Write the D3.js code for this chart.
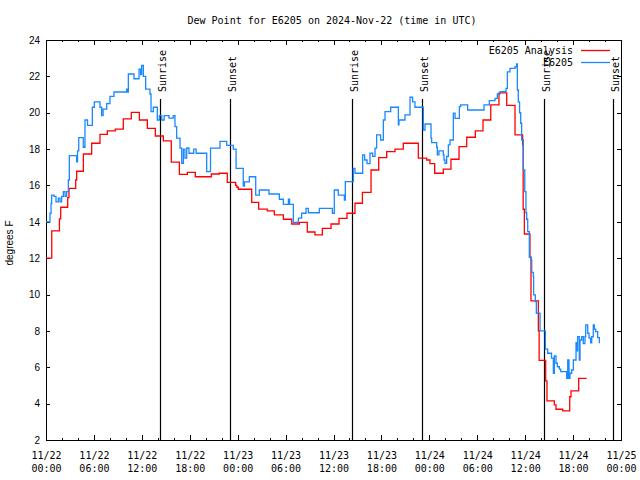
<!DOCTYPE html>
<html>
<head>
  <meta charset="utf-8">
  <title>Dew Point for E6205</title>
  <script src="https://cdn.jsdelivr.net/npm/d3@7"></script>
  <style>
    body { margin: 0; background: #fff; }
    text { fill: #000; }
  </style>
</head>
<body>
  <script>
    // Hours since 2024-11-22 00:00 UTC
    const start = Date.UTC(2024, 10, 22, 0, 0);
    const end = Date.UTC(2024, 10, 25, 0, 0);

    // E6205 Analysis (red, stepped)
    const analysisHours = [0, 0.72, 1.68, 1.84, 2.72, 2.88, 3.72, 3.84, 4.68, 5.72, 6.76, 7.68, 8.68, 9.68, 10.68,
      11.69, 12.69, 13.69, 14.69, 15.69, 16.7, 17.7, 18.7, 20.7, 21.7, 22.7, 23.75, 23.9, 24.08, 25.76, 26.63,
      27.71, 28.59, 29.72, 30.77, 31.72, 32.72, 33.68, 34.6, 35.69, 36.69, 37.69, 38.69, 39.62, 40.7, 41.66,
      42.66, 43.7, 44.74, 46.62, 47.67, 48.08, 48.67, 49.75, 50.71, 51.72, 52.68, 53.76, 54.72, 55.69, 56.72,
      57.69, 58.73, 59.69, 59.75, 59.9, 60.6, 60.73, 61.65, 61.75, 62.57, 62.73, 63.65, 63.86, 64.7, 65.58,
      65.74, 66.7, 67.7];
    const analysisValues = [12.0, 13.5, 14.16, 14.8, 15.33, 15.84, 16.3, 16.78, 17.73, 18.32, 18.81, 19.0, 19.1, 19.66, 20.02,
      19.6, 19.14, 18.72, 18.45, 17.28, 16.61, 16.72, 16.48, 16.63, 16.67, 16.17, 16.0, 15.9, 15.79, 15.07, 14.7,
      14.6, 14.38, 14.14, 13.88, 13.97, 13.44, 13.28, 13.64, 13.88, 14.19, 14.47, 15.02, 15.62, 16.85, 17.53,
      17.86, 18.0, 18.32, 17.5, 17.4, 17.2, 16.67, 16.9, 17.44, 18.14, 18.65, 19.0, 19.6, 20.43, 21.09,
      20.4, 18.78, 18.23, 14.69, 13.33, 12.05, 9.65, 8.01, 6.38, 5.25, 4.15, 3.93, 3.69, 3.6, 4.38,
      4.7, 5.39, 5.39];

    // E6205 observations (blue)
    const obsHours = [0, 0.5, 0.63, 0.71, 1.0, 1.25, 1.54, 1.75, 1.96, 2.17, 2.38, 2.59, 2.8, 2.92, 3.84, 3.95,
      4.1, 4.67, 4.88, 5.2, 5.8, 6.05, 6.76, 6.97, 7.15, 7.6, 8.01, 8.51, 10.1, 10.2, 10.31, 11.02, 11.65,
      11.85, 11.98, 12.19, 12.48, 13.02, 13.15, 13.44, 13.94, 14.2, 14.5, 14.8, 15.4, 15.94, 16.15, 16.36,
      16.78, 16.99, 17.2, 17.4, 17.62, 17.9, 18.5, 18.8, 20.12, 20.6, 21.79, 22.63, 23.45, 23.8, 24.7,
      24.85, 25.46, 26.26, 26.71, 27.92, 29.22, 29.72, 30.35, 30.5, 30.97, 31.6, 32.01, 32.56, 32.85,
      34.23, 35.86, 36.1, 36.6, 37.36, 37.48, 38.48, 38.69, 39.65, 39.9, 40.2, 40.57, 40.9, 41.2, 41.4,
      41.9, 42.24, 42.45, 43.16, 44.12, 44.2, 44.95, 45.58, 45.91, 46.2, 47.25, 47.46, 48.21, 48.29,
      48.92, 49.0, 49.2, 49.75, 49.84, 49.96, 50.17, 50.38, 50.59, 51.01, 51.22, 51.76, 51.93, 52.8,
      54.85, 55.51, 56.22, 56.52, 56.85, 57.6, 57.77, 58.1, 58.73, 58.94, 59.02, 59.14, 59.3, 59.44,
      59.56, 59.77, 59.95, 60.1, 60.19, 60.32, 60.52, 60.73, 60.82, 61.02, 61.06, 61.27, 61.4, 61.86,
      62.53, 62.82, 63.3, 63.53, 63.65, 63.86, 64.03, 64.28, 64.45, 65.2, 65.33, 65.49, 65.61, 65.82,
      66.03, 66.37, 66.45, 66.57, 66.78, 66.87, 67.08, 67.28, 67.49, 67.58, 67.83, 68.0, 68.2, 68.33,
      68.53, 68.66, 68.83, 69.08, 69.29];
    const obsValues = [14.0, 14.47, 15.0, 15.47, 15.4, 15.1, 15.3, 15.1, 15.4, 15.66, 15.4, 15.66, 16.3, 17.64, 17.3, 17.9,
      18.63, 18.1, 19.6, 19.3, 20.3, 20.6, 20.3, 19.84, 20.2, 20.5, 20.9, 21.14, 21.3, 21.14, 22.13, 21.87, 22.39,
      22.1, 22.6, 22.0, 21.3, 21.03, 20.06, 20.3, 19.6, 19.84, 19.6, 19.84, 19.7, 19.84, 19.24, 18.6,
      18.05, 17.22, 18.0, 17.5, 18.06, 17.77, 18.0, 17.77, 16.76, 18.05, 18.42, 18.2, 18.0, 16.94, 15.97,
      16.2, 16.48, 15.47, 15.75, 15.53, 15.24, 14.96, 15.24, 14.96, 13.97, 14.2, 14.47, 14.74, 14.5,
      14.74, 14.47, 15.75, 15.47, 15.2, 16.21, 16.94, 16.67, 17.68, 17.4, 17.2, 17.77, 17.6, 18.05, 18.78,
      18.5, 19.6, 20.06, 20.3, 19.33, 19.6, 19.88, 20.85, 20.6, 20.3, 19.05, 19.38, 18.6, 18.36,
      18.1, 17.68, 17.9, 17.68, 17.4, 17.22, 17.6, 18.23, 18.5, 19.97, 19.69, 20.34, 20.43, 20.15,
      20.43, 20.67, 20.79, 21.03, 21.16, 21.34, 22.25, 22.44, 22.53, 22.68, 21.25, 20.6, 20.0, 19.42,
      18.5, 16.85, 15.66, 14.5, 14.14, 13.46, 12.05, 11.9, 11.22, 11.0, 9.98, 9.61, 8.97, 8.0,
      7.0, 6.77, 6.5, 5.67, 6.62, 6.22, 6.03, 5.9, 5.76, 5.39, 6.4, 5.39, 5.67, 5.85,
      6.4, 7.35, 6.9, 7.68, 6.4, 7.5, 7.68, 7.3, 7.68, 8.33, 7.87, 7.6, 7.35, 7.68,
      8.33, 8.1, 7.96, 7.63, 7.32];

    // Sunrise / sunset markers
    const sunHours = [14.27, 23.05, 38.3, 47.05, 62.33, 71.03];
    const sunLabels = ["Sunrise", "Sunset", "Sunrise", "Sunset", "Sunrise", "Sunset"];

    const yTicks = [2, 4, 6, 8, 10, 12, 14, 16, 18, 20, 22, 24];

    const w = 640, h = 480;
    const plotLeft = 46, plotRight = 621, plotTop = 40, plotBottom = 440;
    const mono = "'DejaVu Sans Mono', monospace";
    const sans = "'Liberation Sans', Arial, sans-serif";

    const toDate = hr => new Date(start + hr * 3600e3);

    const x = d3.scaleUtc().domain([new Date(start), new Date(end)]).range([plotLeft, plotRight]);
    const y = d3.scaleLinear().domain([2, 24]).range([plotBottom, plotTop]);

    const svg = d3.select("body").append("svg")
      .attr("width", w).attr("height", h)
      .style("display", "block");

    // title
    svg.append("text")
      .attr("x", 332).attr("y", 24)
      .attr("text-anchor", "middle")
      .style("font-family", mono).style("font-size", "10px")
      .text("Dew Point for E6205 on 2024-Nov-22 (time in UTC)");

    // y label
    svg.append("text")
      .attr("transform", "translate(13,243) rotate(-90)")
      .attr("text-anchor", "middle")
      .style("font-family", sans).style("font-size", "10px")
      .text("degrees F");

    const majorTicks = d3.utcHour.every(6).range(new Date(start), new Date(end + 1));
    const minorTicks = d3.utcHour.every(2).range(new Date(start), new Date(end + 1));
    const fmtDay = d3.utcFormat("%m/%d");
    const fmtTime = d3.utcFormat("%H:%M");

    // minor ticks bottom / top
    svg.append("g")
      .attr("transform", "translate(0," + plotBottom + ")")
      .call(d3.axisBottom(x).tickValues(minorTicks).tickSize(-2).tickSizeOuter(0).tickFormat(""))
      .call(g => g.select(".domain").remove());
    svg.append("g")
      .attr("transform", "translate(0," + plotTop + ")")
      .call(d3.axisTop(x).tickValues(minorTicks).tickSize(-2).tickSizeOuter(0).tickFormat(""))
      .call(g => g.select(".domain").remove());

    // major ticks bottom with two line labels
    const xAxis = svg.append("g")
      .attr("transform", "translate(0," + plotBottom + ")")
      .call(d3.axisBottom(x).tickValues(majorTicks).tickSize(-5).tickSizeOuter(0).tickFormat(""))
      .call(g => g.select(".domain").remove());
    xAxis.selectAll(".tick text").remove();
    xAxis.selectAll(".tick").each(function (d) {
      const t = d3.select(this).append("text")
        .attr("text-anchor", "middle")
        .style("font-family", mono).style("font-size", "10px")
        .attr("fill", "#000");
      t.append("tspan").attr("x", 0).attr("y", 19).text(fmtDay(d));
      t.append("tspan").attr("x", 0).attr("y", 32).text(fmtTime(d));
    });
    svg.append("g")
      .attr("transform", "translate(0," + plotTop + ")")
      .call(d3.axisTop(x).tickValues(majorTicks).tickSize(-5).tickSizeOuter(0).tickFormat(""))
      .call(g => g.select(".domain").remove());

    // y axes
    svg.append("g")
      .attr("transform", "translate(" + plotLeft + ",0)")
      .call(d3.axisLeft(y).tickValues(yTicks).tickSize(-4).tickSizeOuter(0).tickPadding(6))
      .call(g => g.select(".domain").remove())
      .call(g => g.selectAll("text").style("font-family", sans).style("font-size", "10px"));
    svg.append("g")
      .attr("transform", "translate(" + plotRight + ",0)")
      .call(d3.axisRight(y).tickValues(yTicks).tickSize(-4).tickSizeOuter(0).tickFormat(""))
      .call(g => g.select(".domain").remove());

    svg.selectAll(".tick line").attr("stroke", "#000").attr("shape-rendering", "crispEdges");

    // border
    svg.append("rect")
      .attr("x", plotLeft).attr("y", plotTop)
      .attr("width", plotRight - plotLeft).attr("height", plotBottom - plotTop)
      .attr("fill", "none").attr("stroke", "#000")
      .attr("shape-rendering", "crispEdges");

    // sunrise / sunset lines
    const sun = svg.append("g");
    sunHours.forEach((hr, i) => {
      const sx = Math.round(x(toDate(hr))) + 0.5;
      sun.append("line")
        .attr("x1", sx).attr("x2", sx)
        .attr("y1", 99).attr("y2", plotBottom)
        .attr("stroke", "#000").attr("stroke-width", 1.2);
      sun.append("text")
        .attr("transform", "translate(" + (sx + 5) + ",92) rotate(-90)")
        .attr("text-anchor", "start")
        .style("font-family", mono).style("font-size", "10px")
        .text(sunLabels[i]);
    });

    const line = d3.line()
      .x(d => x(toDate(d[0])))
      .y(d => y(d[1]))
      .curve(d3.curveStepAfter);

    const analysis = analysisHours.map((hr, i) => [hr, analysisValues[i]]);
    const obs = obsHours.map((hr, i) => [hr, obsValues[i]]);

    svg.append("path")
      .datum(analysis)
      .attr("d", line)
      .attr("fill", "none")
      .attr("stroke", "#ff0000")
      .attr("stroke-width", 1.3);

    svg.append("path")
      .datum(obs)
      .attr("d", line)
      .attr("fill", "none")
      .attr("stroke", "#1a88ff")
      .attr("stroke-width", 1.3);

    // legend
    const legend = [["E6205 Analysis", "#ff0000"], ["E6205", "#1a88ff"]];
    legend.forEach((d, i) => {
      const ly = 50.5 + i * 12;
      svg.append("text")
        .attr("x", 573).attr("y", ly + 3.5)
        .attr("text-anchor", "end")
        .style("font-family", mono).style("font-size", "10px")
        .text(d[0]);
      svg.append("line")
        .attr("x1", 581).attr("x2", 610)
        .attr("y1", ly).attr("y2", ly)
        .attr("stroke", d[1]).attr("stroke-width", 1.3);
    });
  </script>
</body>
</html>
